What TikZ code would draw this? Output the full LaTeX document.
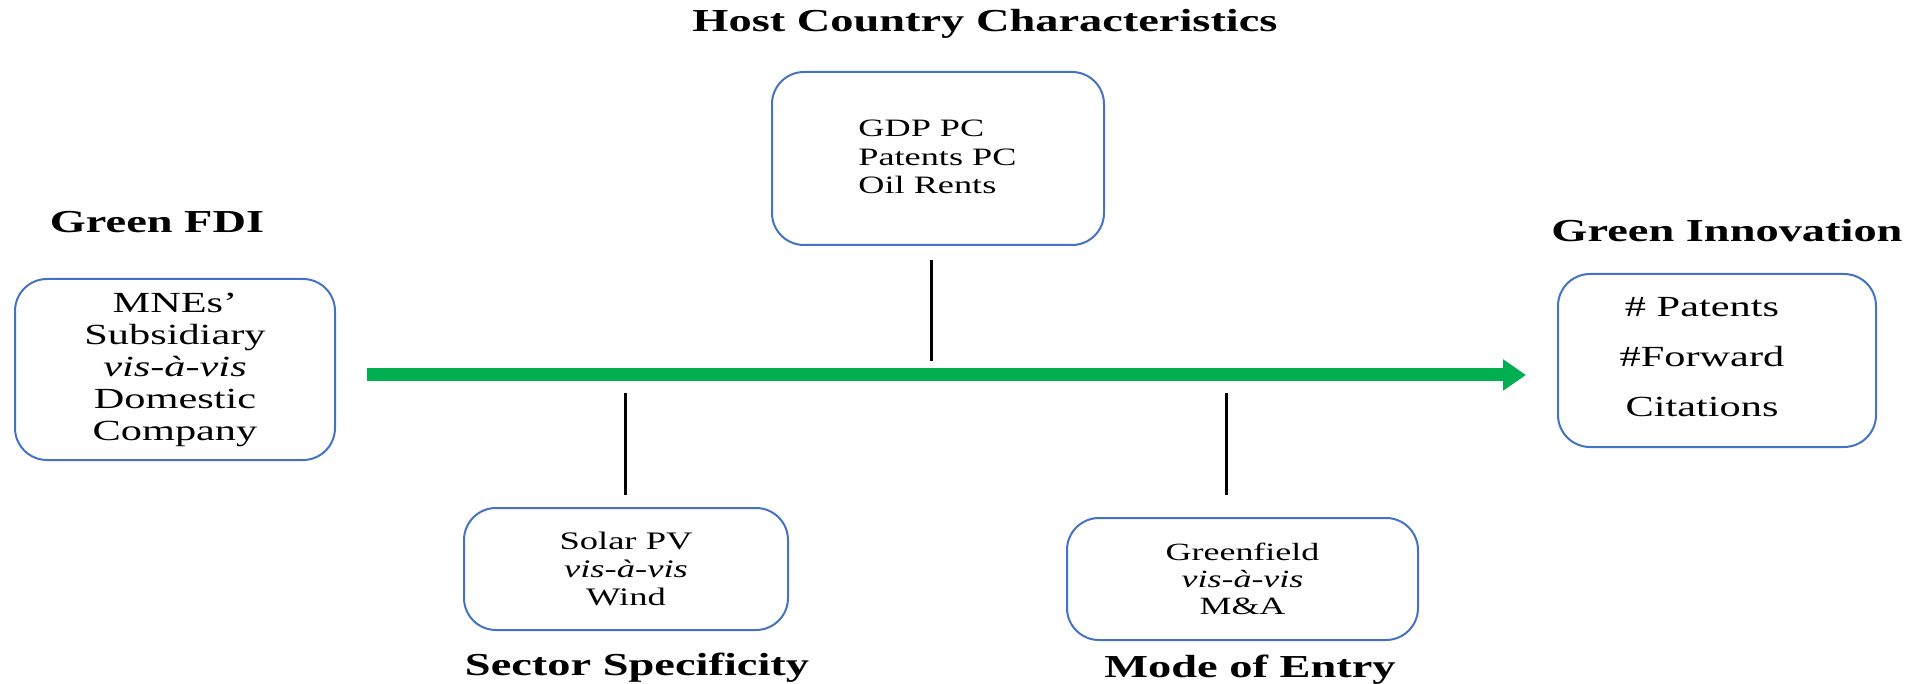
\documentclass[tikz,border=0pt]{standalone}
\usepackage{fontspec}
\setmainfont{Liberation Serif}[FakeStretch=1.45]
\usetikzlibrary{arrows.meta}
\definecolor{boxblue}{RGB}{68,114,196}
\definecolor{arrowgreen}{RGB}{0,176,80}
\tikzset{
  rbox/.style={draw=boxblue, line width=1pt, rounded corners=16pt, inner sep=0pt, align=center},
  lbl/.style={font=\fontsize{16}{18}\selectfont\bfseries, anchor=base, inner sep=0pt},
  link/.style={draw=black, line width=1.5pt},
  flow/.style={draw=arrowgreen, line width=6.5pt, -{Triangle[length=11.5pt,width=15pt]}}
}
\begin{document}
\begin{tikzpicture}[x=0.5pt,y=-0.5pt]
\useasboundingbox (0,0) rectangle (1913,684);
% labels
\node[lbl] (hostlbl) at (985,32) {Host Country Characteristics};
\node[lbl] (fdilbl) at (157,233) {Green FDI};
\node[lbl] (innolbl) at (1727,242) {Green Innovation};
\node[lbl] (sectlbl) at (637,675) {Sector Specificity};
\node[lbl] (modelbl) at (1250,677) {Mode of Entry};
% boxes
\node[rbox, minimum width=160pt, minimum height=90.5pt, font=\fontsize{14.6}{16}\selectfont] (fdi) at (175,369.5)
  {MNEs’\\Subsidiary\\\textit{vis-à-vis}\\Domestic\\Company};
\node[rbox, minimum width=166pt, minimum height=86.5pt] (host) at (938,158.5) {};
\node[anchor=west, align=left, inner sep=0pt, font=\fontsize{12.5}{14.25}\selectfont] (hosttxt) at (858,157)
  {GDP PC\\Patents PC\\Oil Rents};
\node[rbox, minimum width=159pt, minimum height=86.5pt] (inno) at (1717,360.5) {};
\node[align=center, inner sep=0pt, font=\fontsize{14.6}{25}\selectfont] (innotxt) at (1702,357)
  {\# Patents\\\#Forward\\Citations};
\node[rbox, minimum width=162pt, minimum height=61pt, font=\fontsize{12.6}{14}\selectfont] (sect) at (626,569)
  {Solar PV\\\textit{vis-à-vis}\\Wind};
\node[rbox, minimum width=175.5pt, minimum height=61pt, font=\fontsize{12.4}{13.5}\selectfont] (mode) at (1242.5,579)
  {Greenfield\\\textit{vis-à-vis}\\M\&A};
% connectors
\coordinate (arrS) at (367,375);
\coordinate (arrE) at (1526,375);
\draw[flow] (arrS) -- (arrE);
\coordinate (hostA) at (931,260);
\coordinate (hostB) at (931,361);
\draw[link] (hostA) -- (hostB);
\coordinate (sectA) at (625,393);
\coordinate (sectB) at (625,495);
\draw[link] (sectA) -- (sectB);
\coordinate (modeA) at (1226,393);
\coordinate (modeB) at (1226,495);
\draw[link] (modeA) -- (modeB);
\end{tikzpicture}
\end{document}
